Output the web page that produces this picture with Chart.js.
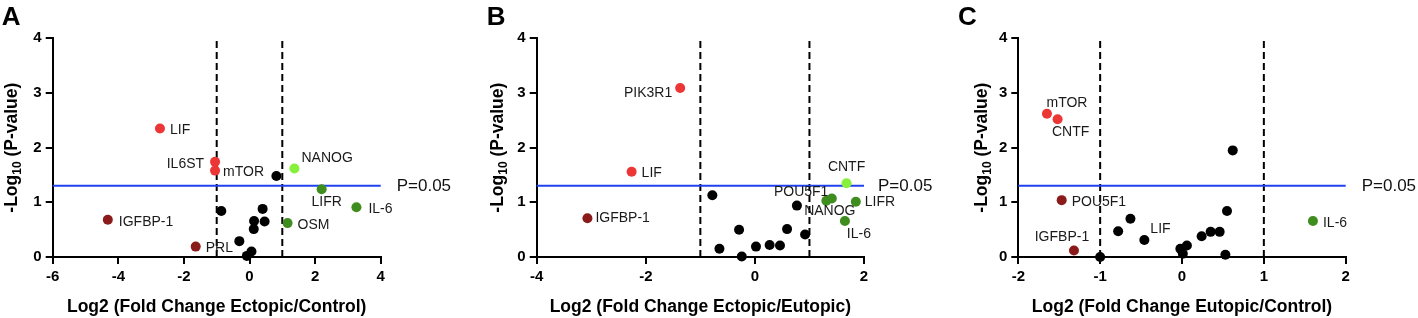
<!DOCTYPE html>
<html><head><meta charset="utf-8">
<script src="https://cdn.jsdelivr.net/npm/chart.js@4.4.1/dist/chart.umd.min.js"></script>
<style>
html,body{margin:0;padding:0;background:#fff;}
#wrap{position:relative;width:1418px;height:318px;overflow:hidden;background:#fff;}
canvas{position:absolute;top:0;}
</style></head><body>
<div id="wrap">
<canvas id="cA" width="470" height="318" style="left:0px"></canvas>
<canvas id="cB" width="470" height="318" style="left:470px"></canvas>
<canvas id="cC" width="478" height="318" style="left:940px"></canvas>
</div>
<script>
// ---------------- DATA ----------------
const Y_TICKS = [0, 1, 2, 3, 4];
const FOLD_CUTS = [-1, 1];
const P_CUT = 1.301; // -log10(0.05)
const P_LABEL = 'P=0.05';

// Panel A: Ectopic vs Control
const A_xTicks = [-6, -4, -2, 0, 2, 4];
const A_genes = ['LIF','IL6ST','mTOR','','NANOG','LIFR','IL-6','OSM','IGFBP-1','PRL','','','','','','','',''];
const A_x     = [-2.73,-1.05,-1.05,0.82,1.37,2.20,3.26,1.16,-4.32,-1.64,-0.86,0.40,0.14,0.46,0.13,-0.31,0.06,-0.08];
const A_y     = [2.35,1.74,1.58,1.48,1.62,1.24,0.91,0.62,0.68,0.19,0.84,0.88,0.66,0.65,0.51,0.29,0.10,0.02];
const A_group = ['downSig','downSig','downSig','ns','upSig','up','up','up','down','down','ns','ns','ns','ns','ns','ns','ns','ns'];
const A_xTitle = 'Log2 (Fold Change Ectopic/Control)';

// Panel B: Ectopic vs Eutopic
const B_xTicks = [-4, -2, 0, 2];
const B_genes = ['PIK3R1','LIF','IGFBP-1','CNTF','POU5F1','NANOG','LIFR','IL-6','','','','','','','','','',''];
const B_x     = [-1.37,-2.26,-3.07,1.68,1.31,1.41,1.85,1.65,-0.78,0.77,-0.29,0.59,0.92,-0.65,0.02,0.27,0.46,-0.24];
const B_y     = [3.09,1.56,0.71,1.35,1.03,1.07,1.01,0.66,1.13,0.94,0.50,0.51,0.41,0.15,0.19,0.22,0.21,0.01];
const B_group = ['downSig','downSig','down','upSig','up','up','up','up','ns','ns','ns','ns','ns','ns','ns','ns','ns','ns'];
const B_xTitle = 'Log2 (Fold Change Ectopic/Eutopic)';

// Panel C: Eutopic vs Control
const C_xTicks = [-2, -1, 0, 1, 2];
const C_genes = ['mTOR','CNTF','POU5F1','IGFBP-1','IL-6','LIF','','','','','','','','','','','',''];
const C_x     = [-1.65,-1.52,-1.47,-1.32,1.60,-0.46,0.62,0.55,-0.63,-0.78,0.24,0.35,0.46,0.06,-0.02,0.01,0.53,-1.00];
const C_y     = [2.62,2.52,1.04,0.12,0.66,0.31,1.95,0.84,0.70,0.47,0.38,0.46,0.46,0.21,0.15,0.06,0.04,0.00];
const C_group = ['downSig','downSig','down','down','up','ns','ns','ns','ns','ns','ns','ns','ns','ns','ns','ns','ns','ns'];
const C_xTitle = 'Log2 (Fold Change Eutopic/Control)';

// ---------------- STYLE ----------------
const FONT = '"Liberation Sans", Arial, Helvetica, sans-serif';
Chart.defaults.font.family = FONT;
const GROUP_COLORS = { downSig:'#ec3535', down:'#8b1b1b', upSig:'#86f03c', up:'#3f8d1f', ns:'#000000' };
const GROUP_ORDER = ['ns','down','up','downSig','upSig'];

const LABEL_OFFSETS = {
  A: { 'LIF':{dx:10,dy:2}, 'IL6ST':{dx:-11,dy:2,align:'right'}, 'mTOR':{dx:8,dy:2},
       'NANOG':{dx:7,dy:-10}, 'LIFR':{dx:5,dy:13,align:'center'}, 'IL-6':{dx:12,dy:2},
       'OSM':{dx:10,dy:2}, 'IGFBP-1':{dx:11,dy:2}, 'PRL':{dx:10,dy:2} },
  B: { 'PIK3R1':{dx:-8,dy:5,align:'right'}, 'LIF':{dx:10,dy:1}, 'IGFBP-1':{dx:8,dy:0},
       'CNTF':{dx:0,dy:-16,align:'center'}, 'POU5F1':{dx:2,dy:-9,align:'right'},
       'NANOG':{dx:-2,dy:13,align:'center'}, 'LIFR':{dx:9,dy:0}, 'IL-6':{dx:14,dy:13,align:'center'} },
  C: { 'mTOR':{dx:20,dy:-11,align:'center'}, 'CNTF':{dx:13,dy:13,align:'center'},
       'POU5F1':{dx:10,dy:2}, 'IGFBP-1':{dx:-12,dy:-13,align:'center'},
       'LIF':{dx:6,dy:-11}, 'IL-6':{dx:10,dy:2} }
};

const LAYOUT = {
  A: { yw:52.7, padR:89.3, letter:'A', letterX:1.7, yTitleX:16.7, pGap:16 },
  B: { yw:66.7, padR:76,   letter:'B', letterX:16.7, yTitleX:33,  pGap:14 },
  C: { yw:78.3, padR:72.3, letter:'C', letterX:18,   yTitleX:46.5, pGap:16 }
};

const extras = {
  id: 'extras',
  afterDatasetsDraw(chart, args, o) {
    const {ctx, chartArea:a, scales:{x, y}} = chart;
    ctx.save();
    // point labels
    ctx.font = '14px ' + FONT;
    ctx.fillStyle = '#1a1a1a';
    ctx.textBaseline = 'middle';
    o.genes.forEach((g, i) => {
      if (!g) return;
      const off = o.offsets[g] || {dx:10, dy:2};
      ctx.textAlign = off.align || 'left';
      ctx.fillText(g, x.getPixelForValue(o.xs[i]) + off.dx, y.getPixelForValue(o.ys[i]) + off.dy);
    });
    // P label
    ctx.fillStyle = '#111';
    ctx.font = '17px ' + FONT;
    ctx.textAlign = 'left';
    ctx.fillText(P_LABEL, a.right + o.lay.pGap, y.getPixelForValue(P_CUT));
    // x title
    ctx.fillStyle = '#000';
    ctx.font = 'bold 17.5px ' + FONT;
    ctx.textAlign = 'center';
    ctx.textBaseline = 'alphabetic';
    ctx.fillText(o.xTitle, (a.left + a.right) / 2, 312);
    // y title with subscript
    const main1 = '-Log', sub = '10', main2 = ' (P-value)';
    const fMain = 'bold 17.5px ' + FONT, fSub = 'bold 12px ' + FONT;
    ctx.font = fMain; const w1 = ctx.measureText(main1).width, w3 = ctx.measureText(main2).width;
    ctx.font = fSub; const w2 = ctx.measureText(sub).width;
    const tot = w1 + w2 + w3;
    ctx.translate(o.lay.yTitleX, (a.top + a.bottom) / 2);
    ctx.rotate(-Math.PI / 2);
    ctx.textAlign = 'left';
    let cx = -tot / 2;
    ctx.font = fMain; ctx.fillText(main1, cx, 0); cx += w1;
    ctx.font = fSub; ctx.fillText(sub, cx, 4); cx += w2;
    ctx.font = fMain; ctx.fillText(main2, cx, 0);
    ctx.setTransform(1, 0, 0, 1, 0, 0);
    // panel letter
    ctx.font = 'bold 26px ' + FONT;
    ctx.fillStyle = '#000';
    ctx.textAlign = 'left';
    ctx.fillText(o.lay.letter, o.lay.letterX, 25);
    ctx.restore();
  }
};

function makePanel(id, key, xTicks, genes, xs, ys, groups, xTitle) {
  const lay = LAYOUT[key];
  const xmin = xTicks[0], xmax = xTicks[xTicks.length - 1];
  const ymin = Y_TICKS[0], ymax = Y_TICKS[Y_TICKS.length - 1];
  const datasets = [];
  FOLD_CUTS.forEach(c => datasets.push({
    type:'line', data:[{x:c, y:ymin}, {x:c, y:ymax}], borderColor:'#000', borderWidth:2,
    borderDash:[7,4], pointRadius:0, order:10, clip:false
  }));
  datasets.push({
    type:'line', data:[{x:xmin, y:P_CUT}, {x:xmax, y:P_CUT}], borderColor:'#2041f0', borderWidth:2,
    pointRadius:0, order:9, clip:false
  });
  GROUP_ORDER.forEach((g, gi) => {
    const pts = [];
    xs.forEach((v, i) => { if (groups[i] === g) pts.push({x:v, y:ys[i]}); });
    if (pts.length) datasets.push({
      type:'scatter', data:pts, backgroundColor:GROUP_COLORS[g], borderWidth:0,
      pointRadius:5, pointHoverRadius:5, order:5 - gi, clip:false
    });
  });
  const tickFont = {family:FONT, size:15, weight:'bold'};
  new Chart(document.getElementById(id), {
    data: { datasets },
    options: {
      responsive:false, animation:false, events:[],
      layout:{ padding:{ left:0, right:lay.padR, top:38.3, bottom:0 } },
      plugins:{ legend:{display:false}, tooltip:{enabled:false}, extras:{ genes, xs, ys, offsets:LABEL_OFFSETS[key], lay, xTitle } },
      scales:{
        x:{ type:'linear', min:xmin, max:xmax,
            afterBuildTicks:(s) => { s.ticks = xTicks.map(v => ({value:v})); },
            afterFit:(s) => { s.height = 61; },
            ticks:{ font:tickFont, color:'#000', padding:4, maxRotation:0, autoSkip:false },
            grid:{ drawOnChartArea:false, drawTicks:true, tickLength:7, color:'#000', lineWidth:2 },
            border:{ display:true, color:'#000', width:2 } },
        y:{ type:'linear', min:ymin, max:ymax,
            afterBuildTicks:(s) => { s.ticks = Y_TICKS.map(v => ({value:v})); },
            afterFit:(s) => { s.width = lay.yw; },
            ticks:{ font:tickFont, color:'#000', padding:4, autoSkip:false },
            grid:{ drawOnChartArea:false, drawTicks:true, tickLength:7, color:'#000', lineWidth:2 },
            border:{ display:true, color:'#000', width:2 } }
      }
    },
    plugins:[extras]
  });
}

makePanel('cA', 'A', A_xTicks, A_genes, A_x, A_y, A_group, A_xTitle);
makePanel('cB', 'B', B_xTicks, B_genes, B_x, B_y, B_group, B_xTitle);
makePanel('cC', 'C', C_xTicks, C_genes, C_x, C_y, C_group, C_xTitle);
</script>
</body></html>
